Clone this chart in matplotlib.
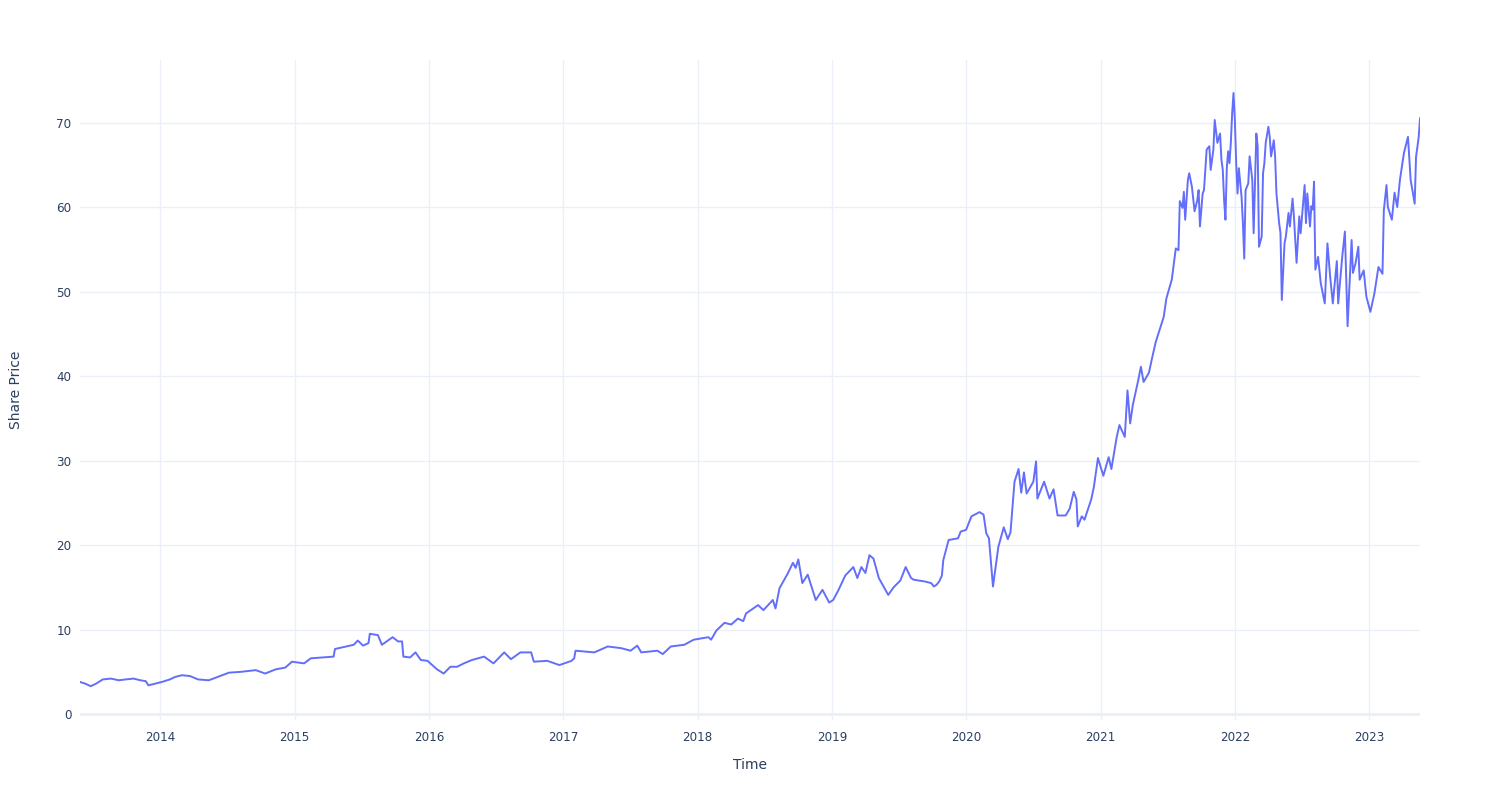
import pandas as pd
import matplotlib.pyplot as plt
import matplotlib.dates as mdates

# time as decimal years, price
dec_year = [
    2013.40, 2013.44, 2013.48, 2013.52, 2013.57, 2013.63, 2013.69, 2013.74, 2013.80, 2013.85,
    2013.89, 2013.91, 2013.96, 2014.01, 2014.07, 2014.11, 2014.16, 2014.22, 2014.28, 2014.36,
    2014.41, 2014.51, 2014.60, 2014.71, 2014.78, 2014.86, 2014.93, 2014.98, 2015.07, 2015.12,
    2015.29, 2015.30, 2015.44, 2015.47, 2015.51, 2015.55, 2015.56, 2015.62, 2015.65, 2015.73,
    2015.77, 2015.80, 2015.81, 2015.86, 2015.90, 2015.94, 2015.99, 2016.06, 2016.11, 2016.16,
    2016.21, 2016.26, 2016.32, 2016.41, 2016.48, 2016.56, 2016.61, 2016.68, 2016.76, 2016.78,
    2016.88, 2016.97, 2017.06, 2017.08, 2017.09, 2017.23, 2017.33, 2017.43, 2017.50, 2017.55,
    2017.58, 2017.70, 2017.74, 2017.80, 2017.90, 2017.97, 2018.08, 2018.10, 2018.14, 2018.20,
    2018.25, 2018.30, 2018.34, 2018.36, 2018.45, 2018.49, 2018.56, 2018.58, 2018.61, 2018.67,
    2018.71, 2018.73, 2018.75, 2018.78, 2018.82, 2018.88, 2018.93, 2018.98, 2019.01, 2019.05,
    2019.10, 2019.16, 2019.19, 2019.22, 2019.25, 2019.28, 2019.31, 2019.35, 2019.42, 2019.46,
    2019.51, 2019.55, 2019.59, 2019.61, 2019.65, 2019.69, 2019.74, 2019.76, 2019.78, 2019.80,
    2019.82, 2019.83, 2019.87, 2019.94, 2019.96, 2020.00, 2020.04, 2020.10, 2020.13, 2020.15,
    2020.17, 2020.20, 2020.24, 2020.28, 2020.31, 2020.33, 2020.36, 2020.39, 2020.41, 2020.43,
    2020.45, 2020.50, 2020.52, 2020.53, 2020.58, 2020.62, 2020.65, 2020.68, 2020.74, 2020.77,
    2020.80, 2020.82, 2020.83, 2020.86, 2020.88, 2020.93, 2020.95, 2020.98, 2021.02, 2021.06,
    2021.08, 2021.12, 2021.14, 2021.18, 2021.20, 2021.22, 2021.24, 2021.28, 2021.30, 2021.32,
    2021.36, 2021.38, 2021.41, 2021.47, 2021.49, 2021.53, 2021.56, 2021.58, 2021.59, 2021.61,
    2021.62, 2021.63, 2021.65, 2021.66, 2021.68, 2021.70, 2021.72, 2021.73, 2021.74, 2021.76,
    2021.77, 2021.79, 2021.81, 2021.82, 2021.84, 2021.85, 2021.87, 2021.89, 2021.90, 2021.91,
    2021.92, 2021.93, 2021.94, 2021.95, 2021.96, 2021.97, 2021.98, 2021.99, 2022.00, 2022.01,
    2022.02, 2022.03, 2022.05, 2022.06, 2022.07, 2022.08, 2022.10, 2022.11, 2022.13, 2022.14,
    2022.16, 2022.17, 2022.18, 2022.20, 2022.21, 2022.22, 2022.23, 2022.25, 2022.26, 2022.27,
    2022.29, 2022.30, 2022.31, 2022.33, 2022.34, 2022.35, 2022.37, 2022.38, 2022.40, 2022.41,
    2022.43, 2022.44, 2022.46, 2022.48, 2022.49, 2022.52, 2022.53, 2022.54, 2022.56, 2022.57,
    2022.58, 2022.59, 2022.60, 2022.62, 2022.64, 2022.67, 2022.69, 2022.71, 2022.73, 2022.76,
    2022.77, 2022.80, 2022.82, 2022.84, 2022.87, 2022.88, 2022.90, 2022.92, 2022.93, 2022.96,
    2022.98, 2023.01, 2023.04, 2023.07, 2023.10, 2023.11, 2023.13, 2023.14, 2023.17, 2023.19,
    2023.21, 2023.23, 2023.26, 2023.29, 2023.31, 2023.34, 2023.35, 2023.37, 2023.38,
]
price = [
    3.8, 3.6, 3.3, 3.6, 4.1, 4.2, 4.0, 4.1, 4.2, 4.0,
    3.9, 3.4, 3.6, 3.8, 4.1, 4.4, 4.6, 4.5, 4.1, 4.0,
    4.3, 4.9, 5.0, 5.2, 4.8, 5.3, 5.5, 6.2, 6.0, 6.6,
    6.8, 7.7, 8.2, 8.7, 8.1, 8.4, 9.5, 9.35, 8.2, 9.1,
    8.6, 8.6, 6.8, 6.7, 7.3, 6.4, 6.3, 5.3, 4.8, 5.6,
    5.6, 6.0, 6.4, 6.8, 6.0, 7.3, 6.5, 7.3, 7.3, 6.2,
    6.3, 5.8, 6.3, 6.6, 7.5, 7.3, 8.0, 7.8, 7.5, 8.1,
    7.3, 7.5, 7.1, 8.0, 8.2, 8.8, 9.1, 8.8, 9.9, 10.8,
    10.6, 11.3, 11.0, 11.9, 12.9, 12.3, 13.5, 12.5, 14.9, 16.6,
    17.9, 17.3, 18.3, 15.5, 16.5, 13.5, 14.7, 13.2, 13.5, 14.7,
    16.4, 17.4, 16.1, 17.4, 16.7, 18.8, 18.4, 16.1, 14.1, 15.0,
    15.8, 17.4, 16.1, 15.9, 15.8, 15.7, 15.5, 15.1, 15.3, 15.7,
    16.4, 18.2, 20.6, 20.8, 21.6, 21.8, 23.4, 23.9, 23.6, 21.4,
    20.8, 15.1, 19.8, 22.1, 20.7, 21.5, 27.5, 29.0, 26.2, 28.6,
    26.1, 27.5, 29.9, 25.5, 27.5, 25.5, 26.6, 23.5, 23.5, 24.3,
    26.3, 25.4, 22.2, 23.4, 23.0, 25.4, 26.9, 30.3, 28.2, 30.4,
    29.0, 32.8, 34.2, 32.8, 38.3, 34.4, 36.6, 39.5, 41.1, 39.3,
    40.4, 41.9, 44.0, 47.0, 49.2, 51.4, 55.1, 54.9, 60.7, 59.9,
    61.8, 58.5, 63.2, 64.0, 62.4, 59.5, 60.8, 62.0, 57.7, 61.6,
    62.0, 66.8, 67.2, 64.4, 66.8, 70.3, 67.6, 68.7, 65.6, 64.4,
    60.8, 58.5, 64.6, 66.6, 65.2, 67.6, 71.1, 73.5, 70.3, 65.2,
    61.6, 64.6, 61.2, 58.1, 53.9, 62.0, 62.8, 66.0, 63.2, 56.9,
    68.7, 67.2, 55.3, 56.5, 64.0, 65.2, 67.6, 69.5, 68.3, 66.0,
    67.9, 66.0, 61.6, 58.1, 56.9, 49.0, 55.7, 56.5, 59.3, 57.7,
    61.0, 58.9, 53.4, 58.9, 56.9, 62.6, 58.1, 61.6, 57.7, 60.1,
    59.7, 63.0, 52.6, 54.1, 51.0, 48.6, 55.7, 51.8, 48.6, 53.6,
    48.6, 54.1, 57.1, 45.9, 56.1, 52.2, 53.4, 55.3, 51.4, 52.5,
    49.4, 47.6, 49.8, 52.9, 52.1, 59.6, 62.6, 60.0, 58.5, 61.7,
    60.0, 63.2, 66.4, 68.3, 63.2, 60.4, 65.9, 68.3, 70.5,
]
assert len(dec_year) == len(price)


def to_datetime(d):
    '''Turn a decimal year into a timestamp.'''
    year = int(d)
    start = pd.Timestamp(year, 1, 1)
    end = pd.Timestamp(year + 1, 1, 1)
    return start + (end - start) * (d - year)


dates = [to_datetime(d) for d in dec_year]

text_color = '#2a3f5f'
grid_color = '#ebf0f8'

fig = plt.figure(figsize=(15, 8), dpi=100)
ax = fig.add_axes([0.0533, 0.1, 0.8934, 0.825])

ax.plot(dates, price, color='#636efa', linewidth=1.4)

ax.set_xlim(dates[0], dates[-1])
ax.set_ylim(-0.7, 77.4)
ax.set_yticks(range(0, 80, 10))
ax.xaxis.set_major_locator(mdates.YearLocator())
ax.xaxis.set_major_formatter(mdates.DateFormatter('%Y'))

ax.grid(True, color=grid_color, linewidth=1)
ax.axhline(0, color=grid_color, linewidth=2, zorder=0)
ax.set_axisbelow(True)
for s in ax.spines.values():
    s.set_visible(False)
ax.tick_params(length=0, colors=text_color, labelsize=8.6)
ax.tick_params(axis='x', pad=8)
ax.tick_params(axis='y', pad=6)

ax.set_xlabel('Time', color=text_color, fontsize=10, labelpad=10)
ax.set_ylabel('Share Price', color=text_color, fontsize=10, labelpad=24)

fig.savefig('out.png', dpi=100, facecolor='white')
